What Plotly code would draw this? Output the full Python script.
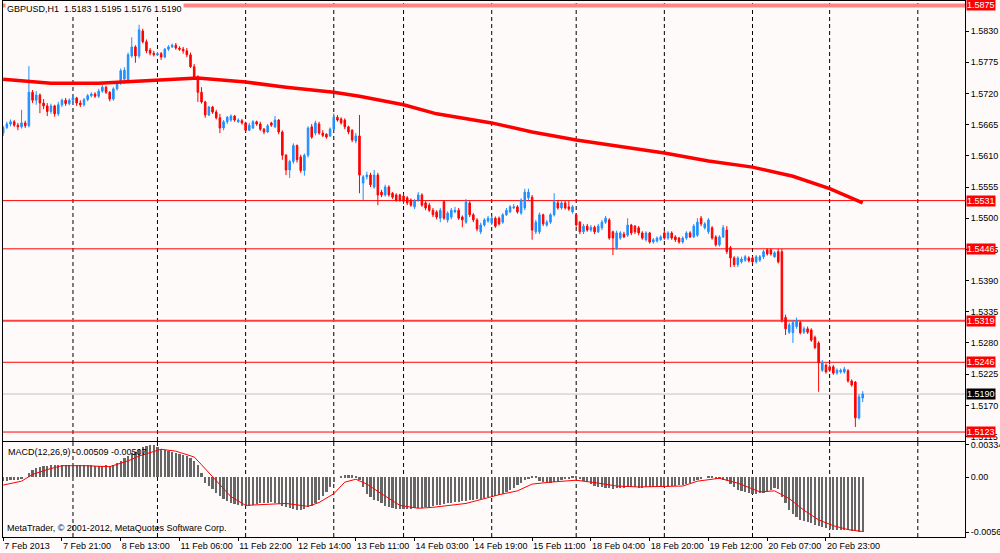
import plotly.graph_objects as go

# GBPUSD H1, 7 Feb 2013 05:00 .. 21 Feb 2013 08:00, one value per hourly bar
opens = [
    1.5650, 1.5660, 1.5666, 1.5670, 1.5664, 1.5661, 1.5668, 1.5663, 1.5722, 1.5708,
    1.5717, 1.5703, 1.5698, 1.5688, 1.5698, 1.5684, 1.5700, 1.5708, 1.5702, 1.5708,
    1.5712, 1.5703, 1.5700, 1.5709, 1.5716, 1.5719, 1.5715, 1.5724, 1.5731, 1.5722,
    1.5710, 1.5728, 1.5738, 1.5745, 1.5740, 1.5786, 1.5802, 1.5786, 1.5830, 1.5811,
    1.5796, 1.5791, 1.5788, 1.5790, 1.5784, 1.5798, 1.5802, 1.5805, 1.5800, 1.5798,
    1.5795, 1.5788, 1.5767, 1.5749, 1.5722, 1.5705, 1.5682, 1.5696, 1.5687, 1.5677,
    1.5659, 1.5670, 1.5673, 1.5680, 1.5670, 1.5672, 1.5668, 1.5655, 1.5659, 1.5670,
    1.5666, 1.5657, 1.5652, 1.5668, 1.5661, 1.5673, 1.5652, 1.5611, 1.5585, 1.5600,
    1.5628, 1.5608, 1.5584, 1.5611, 1.5661, 1.5650, 1.5666, 1.5650, 1.5648, 1.5645,
    1.5657, 1.5678, 1.5675, 1.5673, 1.5661, 1.5655, 1.5636, 1.5645, 1.5562, 1.5573,
    1.5576, 1.5555, 1.5576, 1.5546, 1.5541, 1.5555, 1.5544, 1.5541, 1.5541, 1.5539,
    1.5536, 1.5532, 1.5520, 1.5532, 1.5541, 1.5527, 1.5523, 1.5514, 1.5511, 1.5500,
    1.5529, 1.5497, 1.5502, 1.5511, 1.5514, 1.5502, 1.5493, 1.5527, 1.5506, 1.5497,
    1.5476, 1.5488, 1.5495, 1.5492, 1.5500, 1.5500, 1.5493, 1.5506, 1.5511, 1.5518,
    1.5520, 1.5509, 1.5518, 1.5536, 1.5537, 1.5476, 1.5476, 1.5506, 1.5488, 1.5493,
    1.5506, 1.5527, 1.5518, 1.5527, 1.5520, 1.5511, 1.5506, 1.5493, 1.5476, 1.5486,
    1.5479, 1.5484, 1.5476, 1.5483, 1.5493, 1.5497, 1.5476, 1.5448, 1.5465, 1.5472,
    1.5470, 1.5488, 1.5486, 1.5483, 1.5474, 1.5462, 1.5474, 1.5458, 1.5460, 1.5462,
    1.5474, 1.5465, 1.5474, 1.5467, 1.5465, 1.5458, 1.5465, 1.5474, 1.5467, 1.5470,
    1.5500, 1.5483, 1.5476, 1.5483, 1.5467, 1.5453, 1.5467, 1.5479, 1.5448, 1.5430,
    1.5418, 1.5423, 1.5426, 1.5430, 1.5430, 1.5423, 1.5426, 1.5432, 1.5444, 1.5444,
    1.5432, 1.5441, 1.5441, 1.5325, 1.5299, 1.5298, 1.5309, 1.5316, 1.5299, 1.5305,
    1.5303, 1.5290, 1.5280, 1.5232, 1.5241, 1.5238, 1.5238, 1.5227, 1.5229, 1.5229,
    1.5231, 1.5213, 1.5211, 1.5148, 1.5183,
]
highs = [
    1.5663, 1.5670, 1.5674, 1.5673, 1.5668, 1.5691, 1.5672, 1.5768, 1.5726, 1.5724,
    1.5720, 1.5710, 1.5703, 1.5702, 1.5700, 1.5705, 1.5711, 1.5712, 1.5711, 1.5716,
    1.5714, 1.5708, 1.5712, 1.5719, 1.5722, 1.5722, 1.5728, 1.5735, 1.5733, 1.5724,
    1.5731, 1.5742, 1.5764, 1.5766, 1.5792, 1.5819, 1.5805, 1.5841, 1.5834, 1.5815,
    1.5800, 1.5795, 1.5793, 1.5793, 1.5800, 1.5805, 1.5808, 1.5809, 1.5803, 1.5802,
    1.5800, 1.5792, 1.5772, 1.5752, 1.5731, 1.5707, 1.5698, 1.5698, 1.5691, 1.5684,
    1.5673, 1.5680, 1.5683, 1.5682, 1.5676, 1.5675, 1.5670, 1.5668, 1.5673, 1.5672,
    1.5670, 1.5659, 1.5666, 1.5670, 1.5680, 1.5675, 1.5655, 1.5613, 1.5603, 1.5632,
    1.5630, 1.5612, 1.5614, 1.5662, 1.5666, 1.5672, 1.5670, 1.5655, 1.5650, 1.5660,
    1.5685, 1.5682, 1.5678, 1.5676, 1.5663, 1.5657, 1.5650, 1.5682, 1.5576, 1.5582,
    1.5580, 1.5585, 1.5580, 1.5550, 1.5559, 1.5558, 1.5546, 1.5544, 1.5543, 1.5543,
    1.5539, 1.5535, 1.5534, 1.5546, 1.5544, 1.5530, 1.5527, 1.5518, 1.5514, 1.5518,
    1.5532, 1.5512, 1.5518, 1.5520, 1.5518, 1.5505, 1.5534, 1.5530, 1.5509, 1.5500,
    1.5492, 1.5500, 1.5504, 1.5504, 1.5503, 1.5503, 1.5509, 1.5518, 1.5523, 1.5525,
    1.5523, 1.5535, 1.5552, 1.5552, 1.5541, 1.5497, 1.5510, 1.5508, 1.5497, 1.5509,
    1.5544, 1.5532, 1.5530, 1.5530, 1.5530, 1.5523, 1.5509, 1.5495, 1.5490, 1.5490,
    1.5488, 1.5487, 1.5490, 1.5497, 1.5504, 1.5500, 1.5478, 1.5478, 1.5477, 1.5476,
    1.5500, 1.5490, 1.5488, 1.5486, 1.5477, 1.5477, 1.5476, 1.5465, 1.5468, 1.5470,
    1.5478, 1.5477, 1.5477, 1.5470, 1.5467, 1.5468, 1.5477, 1.5477, 1.5490, 1.5500,
    1.5504, 1.5493, 1.5500, 1.5486, 1.5470, 1.5470, 1.5488, 1.5486, 1.5451, 1.5433,
    1.5433, 1.5432, 1.5435, 1.5433, 1.5433, 1.5435, 1.5435, 1.5444, 1.5447, 1.5447,
    1.5442, 1.5446, 1.5446, 1.5330, 1.5316, 1.5320, 1.5325, 1.5319, 1.5309, 1.5309,
    1.5306, 1.5293, 1.5283, 1.5250, 1.5244, 1.5242, 1.5241, 1.5235, 1.5235, 1.5238,
    1.5234, 1.5216, 1.5213, 1.5190, 1.5195,
]
lows = [
    1.5645, 1.5657, 1.5662, 1.5661, 1.5655, 1.5658, 1.5659, 1.5660, 1.5703, 1.5700,
    1.5685, 1.5692, 1.5680, 1.5684, 1.5679, 1.5680, 1.5696, 1.5698, 1.5699, 1.5704,
    1.5698, 1.5696, 1.5697, 1.5706, 1.5713, 1.5712, 1.5712, 1.5721, 1.5719, 1.5706,
    1.5707, 1.5725, 1.5735, 1.5737, 1.5738, 1.5783, 1.5774, 1.5782, 1.5808, 1.5791,
    1.5787, 1.5785, 1.5786, 1.5779, 1.5782, 1.5795, 1.5800, 1.5797, 1.5795, 1.5790,
    1.5784, 1.5765, 1.5745, 1.5705, 1.5702, 1.5677, 1.5680, 1.5684, 1.5674, 1.5650,
    1.5655, 1.5666, 1.5670, 1.5670, 1.5668, 1.5665, 1.5652, 1.5654, 1.5657, 1.5663,
    1.5654, 1.5648, 1.5650, 1.5661, 1.5659, 1.5648, 1.5603, 1.5576, 1.5571, 1.5596,
    1.5598, 1.5580, 1.5575, 1.5607, 1.5640, 1.5646, 1.5647, 1.5643, 1.5640, 1.5643,
    1.5655, 1.5670, 1.5665, 1.5657, 1.5648, 1.5634, 1.5632, 1.5544, 1.5532, 1.5568,
    1.5555, 1.5552, 1.5523, 1.5537, 1.5538, 1.5538, 1.5534, 1.5529, 1.5529, 1.5525,
    1.5523, 1.5520, 1.5516, 1.5529, 1.5520, 1.5514, 1.5511, 1.5502, 1.5498, 1.5493,
    1.5497, 1.5492, 1.5498, 1.5509, 1.5497, 1.5484, 1.5490, 1.5502, 1.5493, 1.5477,
    1.5472, 1.5485, 1.5492, 1.5488, 1.5483, 1.5487, 1.5490, 1.5504, 1.5509, 1.5516,
    1.5508, 1.5506, 1.5514, 1.5532, 1.5462, 1.5472, 1.5472, 1.5486, 1.5485, 1.5490,
    1.5503, 1.5515, 1.5515, 1.5515, 1.5513, 1.5508, 1.5485, 1.5472, 1.5472, 1.5476,
    1.5476, 1.5472, 1.5474, 1.5479, 1.5490, 1.5462, 1.5435, 1.5444, 1.5462, 1.5465,
    1.5467, 1.5470, 1.5472, 1.5470, 1.5462, 1.5459, 1.5455, 1.5455, 1.5457, 1.5460,
    1.5462, 1.5462, 1.5462, 1.5458, 1.5455, 1.5455, 1.5462, 1.5465, 1.5465, 1.5467,
    1.5486, 1.5480, 1.5472, 1.5462, 1.5450, 1.5450, 1.5465, 1.5437, 1.5414, 1.5414,
    1.5414, 1.5420, 1.5423, 1.5422, 1.5420, 1.5420, 1.5423, 1.5428, 1.5434, 1.5434,
    1.5430, 1.5420, 1.5316, 1.5294, 1.5296, 1.5280, 1.5305, 1.5295, 1.5296, 1.5296,
    1.5282, 1.5269, 1.5194, 1.5229, 1.5226, 1.5229, 1.5224, 1.5224, 1.5226, 1.5226,
    1.5210, 1.5203, 1.5132, 1.5145, 1.5176,
]
closes = [
    1.5660, 1.5666, 1.5670, 1.5664, 1.5661, 1.5668, 1.5663, 1.5722, 1.5708, 1.5717,
    1.5703, 1.5698, 1.5688, 1.5698, 1.5684, 1.5700, 1.5708, 1.5702, 1.5708, 1.5712,
    1.5703, 1.5700, 1.5709, 1.5716, 1.5719, 1.5715, 1.5724, 1.5731, 1.5722, 1.5710,
    1.5728, 1.5738, 1.5760, 1.5761, 1.5788, 1.5802, 1.5786, 1.5832, 1.5811, 1.5795,
    1.5791, 1.5788, 1.5790, 1.5784, 1.5798, 1.5802, 1.5805, 1.5800, 1.5798, 1.5795,
    1.5788, 1.5767, 1.5749, 1.5722, 1.5705, 1.5682, 1.5696, 1.5687, 1.5677, 1.5659,
    1.5670, 1.5678, 1.5680, 1.5673, 1.5673, 1.5668, 1.5655, 1.5664, 1.5670, 1.5666,
    1.5657, 1.5652, 1.5663, 1.5664, 1.5673, 1.5652, 1.5611, 1.5585, 1.5600, 1.5628,
    1.5603, 1.5584, 1.5611, 1.5659, 1.5643, 1.5668, 1.5650, 1.5646, 1.5643, 1.5657,
    1.5678, 1.5673, 1.5668, 1.5661, 1.5652, 1.5638, 1.5645, 1.5576, 1.5573, 1.5576,
    1.5559, 1.5576, 1.5541, 1.5541, 1.5555, 1.5541, 1.5537, 1.5532, 1.5532, 1.5530,
    1.5527, 1.5523, 1.5530, 1.5541, 1.5523, 1.5518, 1.5514, 1.5506, 1.5502, 1.5514,
    1.5500, 1.5509, 1.5514, 1.5514, 1.5500, 1.5497, 1.5529, 1.5506, 1.5497, 1.5481,
    1.5488, 1.5497, 1.5500, 1.5500, 1.5486, 1.5490, 1.5506, 1.5514, 1.5520, 1.5520,
    1.5511, 1.5532, 1.5546, 1.5546, 1.5479, 1.5493, 1.5506, 1.5490, 1.5493, 1.5506,
    1.5529, 1.5518, 1.5527, 1.5518, 1.5516, 1.5520, 1.5488, 1.5476, 1.5486, 1.5479,
    1.5484, 1.5476, 1.5486, 1.5493, 1.5500, 1.5465, 1.5465, 1.5474, 1.5474, 1.5467,
    1.5488, 1.5474, 1.5476, 1.5474, 1.5465, 1.5474, 1.5458, 1.5462, 1.5465, 1.5467,
    1.5465, 1.5474, 1.5465, 1.5462, 1.5458, 1.5465, 1.5474, 1.5467, 1.5486, 1.5493,
    1.5490, 1.5490, 1.5497, 1.5465, 1.5453, 1.5467, 1.5483, 1.5441, 1.5430, 1.5418,
    1.5430, 1.5428, 1.5432, 1.5425, 1.5423, 1.5432, 1.5432, 1.5441, 1.5437, 1.5437,
    1.5439, 1.5423, 1.5321, 1.5305, 1.5312, 1.5316, 1.5318, 1.5298, 1.5305, 1.5299,
    1.5285, 1.5272, 1.5245, 1.5245, 1.5229, 1.5232, 1.5227, 1.5232, 1.5232, 1.5234,
    1.5213, 1.5206, 1.5148, 1.5185, 1.5190,
]

# moving average (thick red line), read at a few bars
ma_bar = [0, 13, 26, 40, 47, 53, 66, 77, 90, 97, 109, 118, 133, 144, 156, 170,
          180, 192, 204, 215, 225, 234]
ma_val = [1.5745, 1.5738, 1.5738, 1.5742, 1.5745, 1.5747, 1.5740, 1.5731, 1.5722,
          1.5715, 1.5700, 1.5684, 1.5668, 1.5652, 1.5638, 1.5624, 1.5615, 1.5601,
          1.5590, 1.5574, 1.5552, 1.5527]

# MACD(12,26,9) main value per bar (histogram)
macd_main = [
    -0.0004, -0.0004, -0.0003, -0.0003, -0.0003, -0.0002,
    0.0000, 0.0004, 0.0008, 0.0010, 0.0011,
    0.0012, 0.0012, 0.0013, 0.0013, 0.0013, 0.0013, 0.0013, 0.0013, 0.0013, 0.0013,
    0.0013, 0.0013, 0.0013, 0.0013, 0.0012, 0.0012, 0.0012, 0.0013, 0.0012, 0.0013,
    0.0015, 0.0017, 0.0020, 0.0022, 0.0025, 0.0026, 0.0029, 0.0031, 0.0032, 0.0033,
    0.0033, 0.0031, 0.0029, 0.0028, 0.0027, 0.0026, 0.0025, 0.0024, 0.0023, 0.0022,
    0.0020, 0.0017, 0.0013, 0.0004, -0.0006, -0.0009, -0.0012, -0.0016, -0.0019, -0.0022,
    -0.0024, -0.0027, -0.0028, -0.0029, -0.0030, -0.0030, -0.0030, -0.0029, -0.0028, -0.0027,
    -0.0027, -0.0027, -0.0026, -0.0027, -0.0028, -0.0030, -0.0031, -0.0032, -0.0033, -0.0034,
    -0.0034, -0.0033, -0.0031, -0.0030, -0.0027, -0.0023, -0.0019, -0.0015, -0.0010, -0.0005,
    0.0000, 0.0001, 0.0002, 0.0002, 0.0002, 0.0001, -0.0003, -0.0010, -0.0017, -0.0020,
    -0.0023, -0.0025, -0.0027, -0.0030, -0.0031, -0.0032, -0.0033, -0.0033, -0.0033, -0.0033,
    -0.0033, -0.0032, -0.0032, -0.0032, -0.0031, -0.0031, -0.0030, -0.0029, -0.0029, -0.0028,
    -0.0027, -0.0027, -0.0026, -0.0026, -0.0025, -0.0024, -0.0023, -0.0023, -0.0022, -0.0022,
    -0.0021, -0.0020, -0.0020, -0.0019, -0.0018, -0.0017, -0.0015, -0.0013, -0.0011, -0.0008,
    -0.0006, -0.0003, -0.0001, 0.0001, 0.0001, -0.0004, -0.0005, -0.0006, -0.0006, -0.0005,
    -0.0004, -0.0003, -0.0002, -0.0001, 0.0001, 0.0001, -0.0002, -0.0004, -0.0005, -0.0007,
    -0.0009, -0.0010, -0.0010, -0.0011, -0.0011, -0.0012, -0.0011, -0.0011, -0.0011, -0.0010,
    -0.0010, -0.0010, -0.0011, -0.0011, -0.0010, -0.0010, -0.0010, -0.0010, -0.0010, -0.0010,
    -0.0010, -0.0009, -0.0009, -0.0008, -0.0008, -0.0007, -0.0006, -0.0004, -0.0003, -0.0001,
    0.0000, 0.0001, 0.0001, -0.0001, -0.0002, -0.0003, -0.0004, -0.0007, -0.0010, -0.0013,
    -0.0014, -0.0015, -0.0016, -0.0017, -0.0017, -0.0016, -0.0016, -0.0015, -0.0013, -0.0011,
    -0.0012, -0.0020, -0.0027, -0.0034, -0.0038, -0.0041, -0.0044, -0.0045, -0.0046, -0.0047,
    -0.0049, -0.0050, -0.0051, -0.0052, -0.0053, -0.0054, -0.0054, -0.0054, -0.0054, -0.0054,
    -0.0055, -0.0055, -0.0056, -0.0056,
]

# MACD signal line, read at a few bars
signal_bar = [0, 5, 8, 12, 16, 22, 29, 34, 37, 41, 43, 47, 52, 54, 56, 58, 62, 66,
              72, 77, 83, 86, 90, 93, 96, 99, 103, 108, 113, 117, 126, 135, 140, 144,
              149, 153, 156, 162, 167, 173, 180, 185, 189, 195, 200, 206, 210, 214,
              218, 222, 226, 230, 234]
signal_val = [-0.0008, -0.0004, 0.0003, 0.0008, 0.0012, 0.0012, 0.0011, 0.0017, 0.0022,
              0.0027, 0.0029, 0.0027, 0.0021, 0.0013, 0.0005, -0.0003, -0.0020, -0.0029,
              -0.0028, -0.0027, -0.0030, -0.0026, -0.0017, -0.0005, -0.0002, -0.0007,
              -0.0017, -0.0029, -0.0032, -0.0031, -0.0027, -0.0018, -0.0014, -0.0007,
              -0.0005, -0.0004, -0.0003, -0.0006, -0.0009, -0.0010, -0.0009, -0.0009,
              -0.0004, -0.0001, -0.0006, -0.0015, -0.0014, -0.0022, -0.0034, -0.0044,
              -0.0050, -0.0054, -0.0056]

tick_bars = [0, 16, 32, 48, 64, 80, 96, 112, 128, 144, 160, 176, 192, 208, 224]
tick_text = ["7 Feb 2013", "7 Feb 21:00", "8 Feb 13:00", "11 Feb 06:00", "11 Feb 22:00",
             "12 Feb 14:00", "13 Feb 11:00", "14 Feb 03:00", "14 Feb 19:00",
             "15 Feb 11:00", "18 Feb 04:00", "18 Feb 20:00", "19 Feb 12:00",
             "20 Feb 07:00", "20 Feb 23:00"]
day_lines = [19, 42, 66, 90, 109, 133, 156, 180, 204, 225, 249]

price_ticks = [1.5115, 1.5170, 1.5225, 1.5280, 1.5335, 1.5390, 1.5445, 1.5500,
               1.5555, 1.5610, 1.5665, 1.5720, 1.5775, 1.5830]
levels = [1.5875, 1.5531, 1.5446, 1.5319, 1.5246, 1.5123]
bid = 1.5190
macd_ticks = [0.00334, 0.0, -0.00568]
macd_tick_text = ["0.00334", "0.00", "-0.00568"]

BG = "#FFFAFA"
FONT = "Liberation Sans, Arial, sans-serif"
FS = 9
bars = list(range(len(closes)))
x_range = [-0.05, 261.85]

fig = go.Figure()

fig.add_trace(go.Candlestick(
    x=bars, open=opens, high=highs, low=lows, close=closes,
    increasing=dict(line=dict(color="#1E90FF", width=1), fillcolor="#1E90FF"),
    decreasing=dict(line=dict(color="#FF0000", width=1), fillcolor="#FF0000"),
    whiskerwidth=0, hoverinfo="skip", xaxis="x", yaxis="y"))
fig.add_trace(go.Scatter(x=ma_bar, y=ma_val, mode="lines",
                         line=dict(color="#FF0000", width=3.5), xaxis="x", yaxis="y"))

fig.add_trace(go.Bar(x=bars, y=macd_main, width=0.6,
                     marker=dict(color="#666666", line=dict(width=0)),
                     xaxis="x2", yaxis="y2"))
fig.add_trace(go.Scatter(x=signal_bar, y=signal_val, mode="lines",
                         line=dict(color="#FF0000", width=1), xaxis="x2", yaxis="y2"))

shapes = []
for d in day_lines:
    for xr, yr in (("x", "y domain"), ("x2", "y2 domain")):
        shapes.append(dict(type="line", xref=xr, yref=yr, x0=d, x1=d, y0=0, y1=1,
                           line=dict(color="black", width=1, dash="4px,3px"), layer="below"))
for lv in levels:
    if lv == 1.5875:
        ln = dict(color="#FF8585", width=4)
    elif lv == 1.5319:
        ln = dict(color="#FF4040", width=2)
    else:
        ln = dict(color="#FF0000", width=1)
    shapes.append(dict(type="line", xref="x domain", yref="y", x0=0, x1=1, y0=lv, y1=lv,
                       line=ln, layer="below"))
shapes.append(dict(type="line", xref="x domain", yref="y", x0=0, x1=1, y0=bid, y1=bid,
                   line=dict(color="#C0C0C0", width=1), layer="below"))

annotations = []
for lv in levels:
    annotations.append(dict(xref="paper", x=1, xanchor="left", xshift=1, yref="y", y=lv,
                            yanchor="middle", text=f"{lv:.4f}", showarrow=False,
                            bgcolor="#FF0000", borderpad=0,
                            font=dict(family=FONT, size=FS, color="white")))
annotations.append(dict(xref="paper", x=1, xanchor="left", xshift=1, yref="y", y=bid,
                        yanchor="middle", text=f"{bid:.4f}", showarrow=False,
                        bgcolor="#000000", borderpad=0,
                        font=dict(family=FONT, size=FS, color="white")))
annotations.append(dict(xref="paper", x=0, xanchor="left", xshift=2, yref="paper", y=1,
                        yanchor="top", yshift=-1, showarrow=False, bgcolor=BG, borderpad=1,
                        text="GBPUSD,H1  1.5183 1.5195 1.5176 1.5190",
                        font=dict(family=FONT, size=FS, color="black")))
annotations.append(dict(xref="paper", x=0, xanchor="left", xshift=3, yref="y2 domain", y=1,
                        yanchor="top", yshift=-3, showarrow=False,
                        text="MACD(12,26,9) -0.00509 -0.00507",
                        font=dict(family=FONT, size=FS, color="black")))
annotations.append(dict(xref="paper", x=0, xanchor="left", xshift=2, yref="y2 domain", y=0,
                        yanchor="bottom", yshift=2, showarrow=False,
                        text="MetaTrader, © 2001-2012, MetaQuotes Software Corp.",
                        font=dict(family=FONT, size=FS, color="black")))

frame = dict(showline=True, mirror=True, linecolor="black", linewidth=1,
             showgrid=False, zeroline=False, automargin=False)

fig.update_layout(
    width=1000, height=553,
    margin=dict(l=3, r=35, t=1, b=16),
    paper_bgcolor=BG, plot_bgcolor=BG,
    showlegend=False, boxgap=0.4, bargap=0,
    font=dict(family=FONT, size=FS, color="black"),
    xaxis=dict(domain=[0, 1], range=x_range, anchor="y", showticklabels=False,
               ticks="", rangeslider=dict(visible=False), **frame),
    yaxis=dict(domain=[0.1791, 1], range=[1.51072, 1.58829], side="right",
               anchor="x", tickvals=price_ticks, tickformat=".4f", ticks="outside",
               ticklen=3, tickcolor="black", tickfont=dict(family=FONT, size=FS),
               **frame),
    xaxis2=dict(domain=[0, 1], range=x_range, anchor="y2", tickvals=tick_bars,
                ticktext=tick_text, ticks="outside", ticklen=3, tickcolor="black",
                tickangle=0, ticklabelposition="outside right",
                tickfont=dict(family=FONT, size=FS), **frame),
    yaxis2=dict(domain=[0, 0.1772], range=[-0.006166, 0.003646], side="right",
                anchor="x2", tickvals=macd_ticks, ticktext=macd_tick_text,
                ticks="outside", ticklen=3, tickcolor="black",
                tickfont=dict(family=FONT, size=FS), **frame),
    shapes=shapes,
    annotations=annotations,
)

# the page body has a default 8px margin; drop it so the chart sits at the window corner
fig.write_html("out.html", config={"displayModeBar": False},
               post_script="document.body.style.margin='0';")
